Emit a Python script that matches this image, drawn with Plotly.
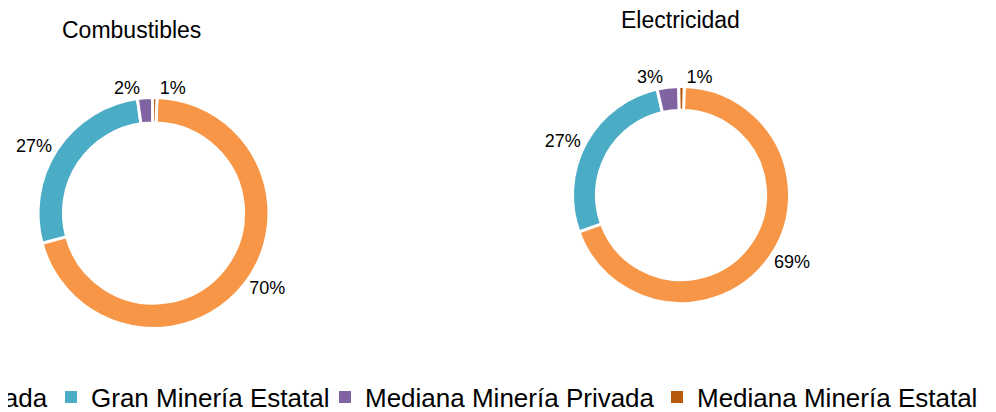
import plotly.graph_objects as go

# ---- data ----
categories = ["Gran Minería Privada", "Gran Minería Estatal",
              "Mediana Minería Privada", "Mediana Minería Estatal"]
combustibles = [70.3, 27.0, 2.1, 0.6]
electricidad = [69.0, 27.0, 3.2, 0.8]
colors = ["#F79646", "#4BACC6", "#8064A2", "#B85A0C"]
titles = ["Combustibles", "Electricidad"]

W, H = 996, 412
OFF = 8  # page body margin: positions below are given in page pixels
FONT = "Liberation Sans"

def px_x(x):
    return (x - OFF) / W

def px_y(y):
    return (H - (y - OFF)) / H

def domain(cx, cy, r):
    return dict(x=[px_x(cx - r), px_x(cx + r)], y=[px_y(cy + r), px_y(cy - r)])

fig = go.Figure()

pies = [
    (combustibles, domain(153.5, 213, 115.5)),
    (electricidad, domain(681, 195, 108.5)),
]
for vals, dom in pies:
    fig.add_trace(go.Pie(
        labels=categories, values=vals, sort=False, direction="clockwise",
        rotation=1.7, hole=0.78, domain=dom,
        marker=dict(colors=colors, line=dict(color="white", width=3)),
        texttemplate="%{percent:.0%}", textposition="outside",
        outsidetextfont=dict(family=FONT, size=18, color="#000000"),
        showlegend=False, hoverinfo="label+percent",
    ))

# legend entries (one legend per item so that the row can run off the left edge)
legend_x_px = [-240, 51, 325, 657]
legend_ids = ["legend", "legend2", "legend3", "legend4"]
for name, col, lid in zip(categories, colors, legend_ids):
    fig.add_trace(go.Scatter(
        x=[None], y=[None], mode="markers", name=name,
        marker=dict(symbol="square", size=12, color=col),
        legend=lid, showlegend=True, hoverinfo="skip",
    ))

layout_legends = {}
for lid, lx in zip(legend_ids, legend_x_px):
    layout_legends[lid] = dict(
        x=px_x(lx), y=px_y(397), xanchor="left", yanchor="middle",
        orientation="h", bgcolor="rgba(0,0,0,0)",
        font=dict(family=FONT, size=26, color="#000000"),
    )

annotations = [
    dict(text=titles[0], x=px_x(131), y=px_y(30), xref="paper", yref="paper",
         showarrow=False, xanchor="center", yanchor="middle",
         font=dict(family=FONT, size=23, color="#000000")),
    dict(text=titles[1], x=px_x(680.5), y=px_y(20), xref="paper", yref="paper",
         showarrow=False, xanchor="center", yanchor="middle",
         font=dict(family=FONT, size=23, color="#000000")),
]

fig.update_layout(
    width=W, height=H,
    margin=dict(l=0, r=0, t=0, b=0, autoexpand=False),
    paper_bgcolor="white", plot_bgcolor="white",
    xaxis=dict(visible=False), yaxis=dict(visible=False),
    annotations=annotations,
    font=dict(family=FONT),
    **layout_legends,
)

fig.write_html("out.html")
